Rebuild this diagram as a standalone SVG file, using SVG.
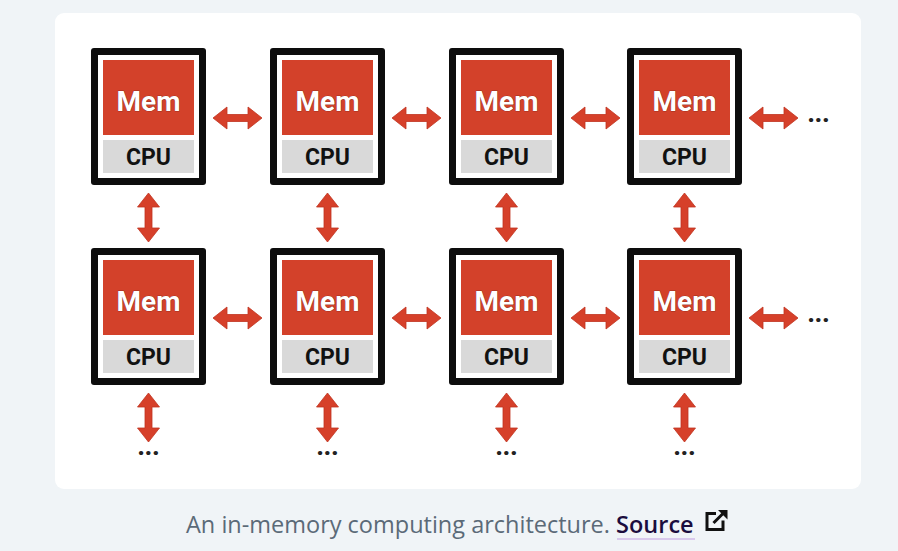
<svg xmlns="http://www.w3.org/2000/svg" xmlns:xlink="http://www.w3.org/1999/xlink" width="898" height="551" viewBox="0 0 898 551">
<style>
.frame{fill:#0d0d0d}
.inner{fill:#ffffff}
.mem{fill:#d3412a}
.cpu{fill:#d9d9d9}
.memt{font-family:Roboto,"Liberation Sans",sans-serif;font-weight:700;font-size:28px;fill:#ffffff;text-anchor:middle;stroke:#6b1a10;stroke-width:0.6;paint-order:stroke}
.cput{font-family:Roboto,"Liberation Sans",sans-serif;font-weight:700;font-size:23px;fill:#111111;text-anchor:middle}
.arr{fill:#d6402a;stroke:#c0331f;stroke-width:0.8}
.dots{font-family:Roboto,"Liberation Sans",sans-serif;font-weight:900;font-size:24px;fill:#222222;text-anchor:middle}
.cap{font-family:"Open Sans","Noto Sans",sans-serif;font-size:23.5px;fill:#5b6a78}
.src{font-family:"Open Sans","Noto Sans",sans-serif;font-size:23.5px;font-weight:600;fill:#1b0d3e}
</style>
<defs>
<path id="dbl" d="M0,0 L14,-11 L14,-3.5 L35,-3.5 L35,-11 L49,0 L35,11 L35,3.5 L14,3.5 L14,11 Z"/>
<g id="node">
<rect class="frame" x="0" y="0" width="115" height="137" rx="3"/>
<rect class="inner" x="7" y="7" width="101" height="123"/>
<rect class="mem" x="12" y="12" width="91" height="75"/>
<rect class="cpu" x="12" y="92" width="91" height="33"/>
<text class="memt" x="57.5" y="63">Mem</text>
<text class="cput" x="57.5" y="117">CPU</text>
</g>
</defs>
<rect x="0" y="0" width="898" height="551" fill="#f0f4f7"/>
<rect x="55" y="13" width="806" height="476" rx="9" fill="#ffffff"/>
<g id="nodes">
<g id="n11"><use xlink:href="#node" x="91" y="48"/></g>
<g id="n12"><use xlink:href="#node" x="270" y="48"/></g>
<g id="n13"><use xlink:href="#node" x="449" y="48"/></g>
<g id="n14"><use xlink:href="#node" x="627" y="48"/></g>
<g id="n21"><use xlink:href="#node" x="91" y="248"/></g>
<g id="n22"><use xlink:href="#node" x="270" y="248"/></g>
<g id="n23"><use xlink:href="#node" x="449" y="248"/></g>
<g id="n24"><use xlink:href="#node" x="627" y="248"/></g>
</g>
<g id="connectors" class="arr">
<use xlink:href="#dbl" transform="translate(213,118)"/>
<use xlink:href="#dbl" transform="translate(392,118)"/>
<use xlink:href="#dbl" transform="translate(571,118)"/>
<use xlink:href="#dbl" transform="translate(749,118)"/>
<use xlink:href="#dbl" transform="translate(213,318)"/>
<use xlink:href="#dbl" transform="translate(392,318)"/>
<use xlink:href="#dbl" transform="translate(571,318)"/>
<use xlink:href="#dbl" transform="translate(749,318)"/>
<use xlink:href="#dbl" transform="translate(148.5,193) rotate(90)"/>
<use xlink:href="#dbl" transform="translate(327.5,193) rotate(90)"/>
<use xlink:href="#dbl" transform="translate(506.5,193) rotate(90)"/>
<use xlink:href="#dbl" transform="translate(684.5,193) rotate(90)"/>
<use xlink:href="#dbl" transform="translate(148.5,393) rotate(90)"/>
<use xlink:href="#dbl" transform="translate(327.5,393) rotate(90)"/>
<use xlink:href="#dbl" transform="translate(506.5,393) rotate(90)"/>
<use xlink:href="#dbl" transform="translate(684.5,393) rotate(90)"/>
</g>
<g id="ellipses">
<text class="dots" x="818.5" y="122">...</text>
<text class="dots" x="818.5" y="322">...</text>
<text class="dots" x="148.5" y="455">...</text>
<text class="dots" x="327.5" y="455">...</text>
<text class="dots" x="506.5" y="455">...</text>
<text class="dots" x="684.5" y="455">...</text>
</g>
<g id="caption">
<text class="cap" x="186" y="533">An in-memory computing architecture. <tspan class="src">Source</tspan></text>
<rect x="617" y="538" width="78" height="2" fill="#d8c8ec"/>
<g fill="none" stroke="#111111" stroke-width="3">
<path d="M716,513.5 H707 V529.5 H723 V520.5"/>
<path d="M713.5,523 L725,511.5"/>
</g>
<path d="M718,510 H727.5 V519.5 Z" fill="#111111"/>
</g>
</svg>
